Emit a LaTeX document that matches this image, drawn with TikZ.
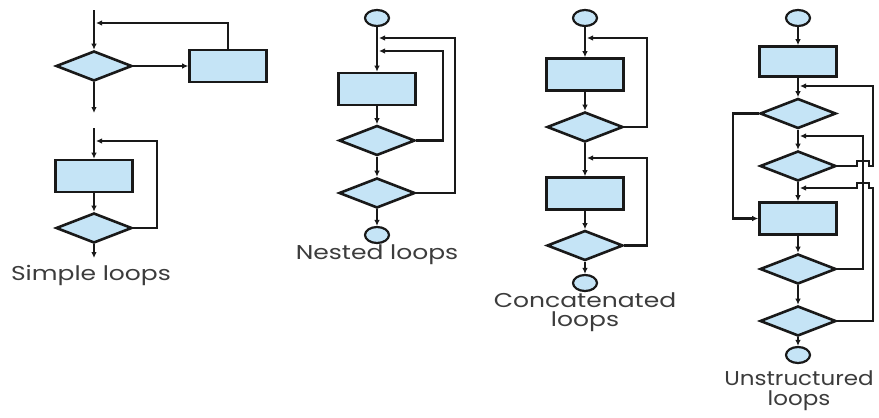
\documentclass[tikz,border=0pt]{standalone}
\usepackage{fontspec}
\setmainfont{Poppins}
\usetikzlibrary{arrows.meta,shapes.geometric}
\definecolor{boxfill}{RGB}{197,228,246}
\definecolor{ink}{RGB}{25,25,25}
\definecolor{txt}{RGB}{60,60,60}
\newcommand{\wide}[1]{\scalebox{1.25}[1]{#1}}
\begin{document}
\begin{tikzpicture}[x=1pt,y=-1pt,
  conn/.style={draw=ink,line width=2.8pt},
  arr/.style={draw=ink,line width=2.8pt,-{Latex[length=6pt,width=5.5pt]}},
  box/.style={rectangle,draw=ink,fill=boxfill,line width=2.6pt,minimum width=77pt,minimum height=32pt,inner sep=0pt},
  dia/.style={diamond,draw=ink,fill=boxfill,line width=2.6pt,minimum width=76pt,minimum height=30pt,inner sep=0pt},
  term/.style={ellipse,draw=ink,fill=boxfill,line width=2.2pt,minimum width=24pt,minimum height=16pt,inner sep=0pt},
  lbl/.style={text=txt,font=\fontsize{20}{20}\selectfont,align=center,inner sep=0pt}]
\useasboundingbox (0,0) rectangle (879,418);
\fill[white] (0,0) rectangle (879,418);

% ---------- Simple loops ----------
\coordinate (s1) at (94,10);
\node[dia] (d1a) at (94,66) {};
\node[box] (r1a) at (228,66) {};
\coordinate (e1) at (94,113);
\coordinate (f1) at (96,23);
\draw[arr] (s1) -- (d1a);
\draw[arr] (d1a) -- (r1a);
\draw[arr] (r1a.north) |- (f1);
\draw[arr] (d1a) -- (e1);

\coordinate (s2) at (94,128);
\node[box] (r1b) at (94,176) {};
\node[dia] (d1b) at (94,228) {};
\coordinate (e2) at (94,258);
\coordinate (o1) at (157,141);
\coordinate (f2) at (96,141);
\draw[arr] (s2) -- (r1b);
\draw[arr] (r1b) -- (d1b);
\draw[arr] (d1b.east) -| (o1) -- (f2);
\draw[arr] (d1b) -- (e2);
\node[lbl] (L1) at (91,275) {\wide{Simple loops}};

% ---------- Nested loops ----------
\node[term] (c2a) at (377,18) {};
\node[box] (r2) at (377,89) {};
\node[dia] (d2a) at (377,140.5) {};
\node[dia] (d2b) at (377,193) {};
\node[term] (c2b) at (377,235) {};
\coordinate (o2a) at (455,38);
\coordinate (f2a) at (379,38);
\coordinate (o2b) at (443,51);
\coordinate (f2b) at (379,51);
\draw[arr] (c2a) -- (r2);
\draw[arr] (r2) -- (d2a);
\draw[arr] (d2a) -- (d2b);
\draw[arr] (d2b) -- (c2b);
\draw[arr] (d2b.east) -| (o2a) -- (f2a);
\draw[arr] (d2a.east) -| (o2b) -- (f2b);
\node[lbl] (L2) at (377,255) {\wide{Nested loops}};

% ---------- Concatenated loops ----------
\node[term] (c3a) at (585,18) {};
\node[box] (r3a) at (585,74.5) {};
\node[dia] (d3a) at (585,127) {};
\node[box] (r3b) at (585,193.5) {};
\node[dia] (d3b) at (585,245.5) {};
\node[term] (c3b) at (585,283) {};
\coordinate (o3a) at (647,38);
\coordinate (f3a) at (587,38);
\coordinate (o3b) at (647,158);
\coordinate (f3b) at (587,158);
\draw[arr] (c3a) -- (r3a);
\draw[arr] (r3a) -- (d3a);
\draw[arr] (d3a) -- (r3b);
\draw[arr] (r3b) -- (d3b);
\draw[arr] (d3b) -- (c3b);
\draw[arr] (d3a.east) -| (o3a) -- (f3a);
\draw[arr] (d3b.east) -| (o3b) -- (f3b);
\node[lbl,font=\fontsize{20}{19}\selectfont] (L3) at (585,312) {\wide{Concatenated}\\\wide{loops}};

% ---------- Unstructured loops ----------
\node[term] (c4a) at (798,18) {};
\node[box,minimum height=30pt] (r4a) at (798,61.5) {};
\node[dia] (d4a) at (798,113.5) {};
\node[dia] (d4b) at (798,166) {};
\node[box] (r4b) at (798,218.5) {};
\node[dia] (d4c) at (798,269) {};
\node[dia] (d4d) at (798,321) {};
\node[term] (c4b) at (798,355) {};
\draw[arr] (c4a) -- (r4a);
\draw[arr] (r4a) -- (d4a);
\draw[arr] (d4a) -- (d4b);
\draw[arr] (d4b) -- (r4b);
\draw[arr] (r4b) -- (d4c);
\draw[arr] (d4c) -- (d4d);
\draw[arr] (d4d) -- (c4b);
% left jump
\coordinate (l4) at (733,113.5);
\draw[arr] (d4a.west) -- (l4) |- (r4b.west);
% loop B
\coordinate (oB) at (863,136);
\coordinate (fB) at (800,136);
\draw[arr] (d4c.east) -| (oB) -- (fB);
% loop A (with bump over B)
\coordinate (bA) at (857,166);
\coordinate (oA) at (873,86);
\coordinate (fA) at (800,86);
\draw[arr] (d4b.east) -- (bA) -- ++(0,-5) -- ++(12,0) -- ++(0,5) -| (oA) -- (fA);
% loop C (with bump over B)
\coordinate (oC) at (873,188);
\coordinate (bC) at (869,188);
\coordinate (fC) at (800,188);
\draw[arr] (d4d.east) -| (oC) -- (bC) -- ++(0,-5) -- ++(-12,0) -- ++(0,5) -- (fC);
\node[lbl,font=\fontsize{20}{20}\selectfont] (L4) at (799,391) {\scalebox{1.15}[1]{Unstructured}\\\scalebox{1.15}[1]{loops}};
\end{tikzpicture}
\end{document}
